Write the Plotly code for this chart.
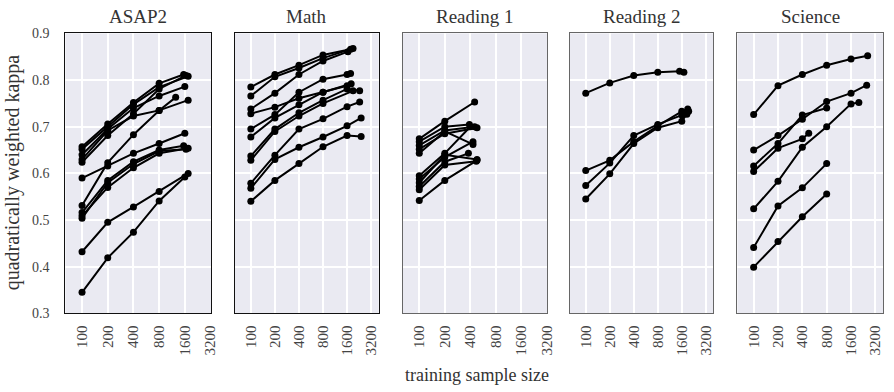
import plotly.graph_objects as go

PANELS = ["ASAP2", "Math", "Reading 1", "Reading 2", "Science"]
X_TICKS = [100, 200, 400, 800, 1600, 3200]
X_TICK_TEXT = ["100", "200", "400", "800", "1600", "3200"]
Y_TICKS = [0.3, 0.4, 0.5, 0.6, 0.7, 0.8, 0.9]
Y_TICK_TEXT = ["0.3", "0.4", "0.5", "0.6", "0.7", "0.8", "0.9"]

ASAP2_X = [
    [100, 200, 400, 800, 1550],
    [100, 200, 400, 800, 1750],
    [100, 200, 400, 800, 1600],
    [100, 200, 400, 800, 1750],
    [100, 200, 400, 800, 1650],
    [100, 200, 400, 800, 1600],
    [100, 200, 400, 800, 1250],
    [100, 200, 400, 800, 1550],
    [100, 200, 400, 800, 1750],
    [100, 200, 400, 800, 1650],
    [100, 200, 400, 800, 1750],
    [100, 200, 400, 800, 1600],
]
ASAP2_Y = [
    [0.657, 0.706, 0.752, 0.793, 0.812],
    [0.652, 0.700, 0.748, 0.785, 0.808],
    [0.640, 0.695, 0.740, 0.766, 0.786],
    [0.630, 0.692, 0.723, 0.735, 0.757],
    [0.624, 0.681, 0.728, 0.781, 0.810],
    [0.590, 0.616, 0.643, 0.664, 0.686],
    [0.531, 0.623, 0.683, 0.735, 0.763],
    [0.516, 0.585, 0.625, 0.650, 0.659],
    [0.509, 0.570, 0.612, 0.643, 0.654],
    [0.504, 0.580, 0.620, 0.648, 0.652],
    [0.432, 0.495, 0.528, 0.561, 0.600],
    [0.345, 0.419, 0.474, 0.541, 0.592],
]

MATH_X = [
    [100, 200, 400, 800, 1770],
    [100, 200, 400, 800, 1900],
    [100, 200, 400, 800, 1640],
    [100, 200, 400, 800, 1600],
    [100, 200, 400, 800, 1600, 1770],
    [100, 200, 400, 800, 1800],
    [100, 200, 400, 800, 1600, 2300],
    [100, 200, 400, 800, 1900],
    [100, 200, 400, 800, 1600, 2300],
    [100, 200, 400, 800, 1600, 2400],
    [100, 200, 400, 800, 1600, 2400],
]
MATH_Y = [
    [0.785, 0.812, 0.832, 0.854, 0.866],
    [0.766, 0.807, 0.826, 0.847, 0.868],
    [0.738, 0.772, 0.812, 0.841, 0.861],
    [0.728, 0.742, 0.761, 0.774, 0.788],
    [0.695, 0.726, 0.774, 0.802, 0.812, 0.814],
    [0.678, 0.719, 0.747, 0.774, 0.792],
    [0.637, 0.695, 0.730, 0.757, 0.781, 0.777],
    [0.628, 0.690, 0.723, 0.750, 0.777],
    [0.579, 0.639, 0.695, 0.717, 0.743, 0.753],
    [0.568, 0.630, 0.656, 0.678, 0.702, 0.719],
    [0.540, 0.585, 0.621, 0.657, 0.681, 0.679],
]

READING1_X = [
    [100, 200, 480],
    [100, 200, 450],
    [100, 200, 390],
    [100, 200, 450],
    [100, 200, 480],
    [100, 200, 430],
    [100, 200, 400],
    [100, 200, 430],
    [100, 200, 480],
    [100, 200, 380],
    [100, 200, 470],
]
READING1_Y = [
    [0.542, 0.585, 0.628],
    [0.674, 0.712, 0.753],
    [0.668, 0.700, 0.705],
    [0.660, 0.692, 0.700],
    [0.652, 0.685, 0.698],
    [0.643, 0.690, 0.662],
    [0.595, 0.643, 0.700],
    [0.588, 0.635, 0.668],
    [0.580, 0.640, 0.630],
    [0.572, 0.625, 0.643],
    [0.565, 0.618, 0.626],
]

READING2_X = [
    [100, 200, 400, 800, 1500, 1700],
    [100, 200, 400, 800, 1600, 1900],
    [100, 200, 400, 800, 1600, 1950],
    [100, 200, 400, 800, 1600, 1850],
]
READING2_Y = [
    [0.772, 0.794, 0.810, 0.817, 0.819, 0.817],
    [0.606, 0.628, 0.668, 0.702, 0.733, 0.738],
    [0.574, 0.622, 0.681, 0.705, 0.725, 0.733],
    [0.545, 0.599, 0.664, 0.698, 0.712, 0.727],
]

SCIENCE_X = [
    [100, 200, 400, 800, 1600, 2570],
    [100, 200, 400, 800, 1600, 2500],
    [100, 200, 400, 800],
    [100, 200, 400, 480],
    [100, 200, 400, 800, 1600, 2000],
    [100, 200, 400, 800],
    [100, 200, 400, 800],
]
SCIENCE_Y = [
    [0.726, 0.788, 0.812, 0.832, 0.845, 0.852],
    [0.650, 0.681, 0.716, 0.754, 0.772, 0.789],
    [0.616, 0.664, 0.725, 0.740],
    [0.604, 0.654, 0.674, 0.686],
    [0.524, 0.583, 0.656, 0.700, 0.749, 0.752],
    [0.441, 0.530, 0.569, 0.621],
    [0.399, 0.454, 0.507, 0.556],
]

PANEL_DATA = [
    (ASAP2_X, ASAP2_Y),
    (MATH_X, MATH_Y),
    (READING1_X, READING1_Y),
    (READING2_X, READING2_Y),
    (SCIENCE_X, SCIENCE_Y),
]

W, H = 894, 392
# panel pixel extents (left, right)
PANEL_PX = [(66, 212.7), (236.7, 381.7), (406, 551.7), (574.3, 719), (743.3, 890)]
X_RANGES = [[1.806, 3.511], [1.80, 3.60], [1.806, 3.511], [1.80, 3.60], [1.80, 3.60]]
BORDER = ["#111111", "#111111", "#666666", "#666666", "#666666"]
Y_TOP, Y_BOT = 27.5, 318.5
FONT = "Liberation Serif, Times New Roman, serif"
TXT = "#333333"

fig = go.Figure()
layout = dict(
    width=W, height=H,
    margin=dict(l=0, r=0, t=0, b=0),
    paper_bgcolor="white",
    plot_bgcolor="#EAEAF2",
    showlegend=False,
    font=dict(family=FONT, color=TXT),
)

for i, (name, (xs, ys)) in enumerate(zip(PANELS, PANEL_DATA)):
    n = i + 1
    xa = "x" if n == 1 else f"x{n}"
    ya = "y" if n == 1 else f"y{n}"
    for x, y in zip(xs, ys):
        fig.add_trace(go.Scatter(
            x=x, y=y, xaxis=xa, yaxis=ya, mode="lines+markers",
            line=dict(color="black", width=2),
            marker=dict(color="black", size=7),
            hoverinfo="skip",
        ))
    l, r = PANEL_PX[i]
    layout["xaxis" if n == 1 else f"xaxis{n}"] = dict(
        domain=[l / W, r / W], type="log", range=X_RANGES[i],
        anchor=ya, tickvals=X_TICKS, ticktext=X_TICK_TEXT, tickangle=-90,
        ticks="outside", ticklen=5, tickcolor="rgba(0,0,0,0)",
        tickfont=dict(family=FONT, size=15, color="#444444"),
        showgrid=True, gridcolor="white", gridwidth=1.5,
        zeroline=False, showline=True, linecolor=BORDER[i], linewidth=1.2,
        mirror=True,
    )
    layout["yaxis" if n == 1 else f"yaxis{n}"] = dict(
        domain=[1 - Y_BOT / H, 1 - Y_TOP / H], range=[0.3, 0.9],
        anchor=xa, tickvals=Y_TICKS, ticktext=Y_TICK_TEXT,
        showticklabels=(n == 1),
        ticks="outside" if n == 1 else "", ticklen=12, tickcolor="rgba(0,0,0,0)",
        tickfont=dict(family=FONT, size=14, color="#444444"),
        showgrid=True, gridcolor="white", gridwidth=1.5,
        zeroline=False, showline=True, linecolor=BORDER[i], linewidth=1.2,
        mirror=True,
    )

annotations = []
for i, name in enumerate(PANELS):
    l, r = PANEL_PX[i]
    annotations.append(dict(
        text=name, x=(l + r) / 2 / W, y=1 - 10 / H, xref="paper", yref="paper",
        xanchor="center", yanchor="middle", showarrow=False,
        font=dict(family=FONT, size=19, color=TXT),
    ))
annotations.append(dict(
    text="training sample size", x=481 / W, y=1 - 383 / H, xref="paper", yref="paper",
    xanchor="center", yanchor="middle", showarrow=False,
    font=dict(family=FONT, size=18, color=TXT),
))
annotations.append(dict(
    text="quadratically weighted kappa", x=13 / W, y=1 - 172 / H, xref="paper", yref="paper",
    xanchor="center", yanchor="middle", showarrow=False, textangle=-90,
    font=dict(family=FONT, size=20, color=TXT),
))
layout["annotations"] = annotations
fig.update_layout(**layout)
fig.write_html("out.html")
